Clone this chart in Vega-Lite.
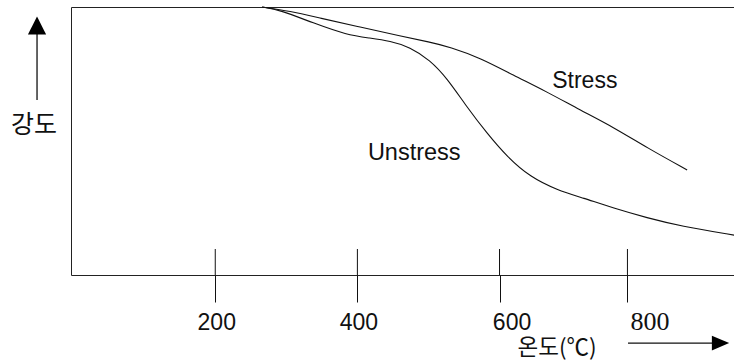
{
  "$schema": "https://vega.github.io/schema/vega-lite/v6.json",
  "width": 700,
  "height": 268,
  "autosize": "none",
  "padding": {"left": 71, "top": 7, "right": 0, "bottom": 85},
  "background": "white",
  "config": {"view": {"stroke": "#222", "strokeWidth": 1}},
  "datasets": {
    "curves": [
      {"series": "Stress", "t": 266, "s": 100},
      {"series": "Stress", "t": 305, "s": 98.5},
      {"series": "Stress", "t": 347, "s": 95.9},
      {"series": "Stress", "t": 404, "s": 92.5},
      {"series": "Stress", "t": 460, "s": 89.2},
      {"series": "Stress", "t": 502, "s": 86.9},
      {"series": "Stress", "t": 530, "s": 85.1},
      {"series": "Stress", "t": 573, "s": 81.0},
      {"series": "Stress", "t": 619, "s": 74.6},
      {"series": "Stress", "t": 667, "s": 68.3},
      {"series": "Stress", "t": 713, "s": 61.6},
      {"series": "Stress", "t": 760, "s": 55.2},
      {"series": "Stress", "t": 808, "s": 47.4},
      {"series": "Stress", "t": 864, "s": 39.2},
      {"series": "Unstress", "t": 266, "s": 100},
      {"series": "Unstress", "t": 291, "s": 98.9},
      {"series": "Unstress", "t": 338, "s": 94.0},
      {"series": "Unstress", "t": 385, "s": 89.6},
      {"series": "Unstress", "t": 418, "s": 88.4},
      {"series": "Unstress", "t": 446, "s": 87.3},
      {"series": "Unstress", "t": 474, "s": 85.1},
      {"series": "Unstress", "t": 502, "s": 80.2},
      {"series": "Unstress", "t": 526, "s": 73.5},
      {"series": "Unstress", "t": 554, "s": 62.7},
      {"series": "Unstress", "t": 582, "s": 53.0},
      {"series": "Unstress", "t": 611, "s": 44.0},
      {"series": "Unstress", "t": 643, "s": 36.6},
      {"series": "Unstress", "t": 681, "s": 31.7},
      {"series": "Unstress", "t": 718, "s": 28.7},
      {"series": "Unstress", "t": 760, "s": 25.0},
      {"series": "Unstress", "t": 808, "s": 21.3},
      {"series": "Unstress", "t": 854, "s": 18.3},
      {"series": "Unstress", "t": 932, "s": 14.8}
    ],
    "ticks": [{"v": 200}, {"v": 400}, {"v": 600}, {"v": 780}]
  },
  "layer": [
    {
      "data": {"name": "curves"},
      "mark": {"type": "line", "interpolate": "basis", "color": "#111", "strokeWidth": 1.1},
      "encoding": {
        "x": {
          "field": "t", "type": "quantitative",
          "scale": {"domain": [-3, 982], "nice": false, "zero": false},
          "axis": {
            "values": [200, 400, 600, 780],
            "labelExpr": "datum.value > 700 ? '800' : datum.label",
            "title": null,
            "domain": false,
            "grid": false,
            "ticks": true,
            "tickSize": 27,
            "tickColor": "#111",
            "tickWidth": 1,
            "labelFontSize": {"condition": {"test": "datum.value > 700", "value": 26}, "value": 23},
            "labelFont": {"condition": {"test": "datum.value > 700", "value": "Liberation Serif"}, "value": "Liberation Sans"},
            "labelOffset": {"condition": [{"test": "datum.value > 700", "value": 22}, {"test": "datum.value > 500", "value": 12}], "value": 1},
            "labelPadding": 27,
            "labelBaseline": "alphabetic",
            "labelColor": "#111",
            "labelFlush": false,
            "labelOverlap": false
          }
        },
        "y": {"field": "s", "type": "quantitative", "scale": {"domain": [0, 100], "nice": false, "zero": false}, "axis": null},
        "detail": {"field": "series"}
      }
    },
    {
      "data": {"name": "ticks"},
      "mark": {"type": "rule", "color": "#111", "strokeWidth": 1},
      "encoding": {
        "x": {"field": "v", "type": "quantitative", "scale": {"domain": [-3, 982], "nice": false, "zero": false}},
        "y": {"datum": 0, "type": "quantitative", "scale": {"domain": [0, 100], "nice": false, "zero": false}},
        "y2": {"datum": 9.7}
      }
    },
    {
      "data": {"values": [{}]},
      "mark": {"type": "text", "text": "Stress", "font": "Liberation Sans", "fontSize": 23, "color": "#111", "align": "center", "baseline": "middle"},
      "encoding": {
        "x": {"datum": 720, "type": "quantitative"},
        "y": {"datum": 72.4, "type": "quantitative"}
      }
    },
    {
      "data": {"values": [{}]},
      "mark": {"type": "text", "text": "Unstress", "font": "Liberation Sans", "fontSize": 23.5, "color": "#111", "align": "center", "baseline": "middle"},
      "encoding": {
        "x": {"datum": 480, "type": "quantitative"},
        "y": {"datum": 45.7, "type": "quantitative"}
      }
    },
    {
      "data": {"values": [{}]},
      "mark": {"type": "text", "text": "강도", "font": "Noto Sans CJK KR", "fontSize": 25, "color": "#111", "align": "center", "baseline": "middle"},
      "encoding": {
        "x": {"datum": -55, "type": "quantitative"},
        "y": {"datum": 56, "type": "quantitative"}
      }
    },
    {
      "data": {"values": [{}]},
      "mark": {"type": "text", "text": "온도(℃)", "font": "Noto Sans CJK KR", "fontSize": 22.5, "color": "#111", "align": "center", "baseline": "middle"},
      "encoding": {
        "x": {"datum": 681, "type": "quantitative"},
        "y": {"datum": -27.4, "type": "quantitative"}
      }
    },
    {
      "data": {"values": [{}]},
      "mark": {"type": "rule", "color": "#111", "strokeWidth": 1.3},
      "encoding": {
        "x": {"datum": -50.8, "type": "quantitative"},
        "y": {"datum": 65.3, "type": "quantitative"},
        "y2": {"datum": 90.3}
      }
    },
    {
      "data": {"values": [{}]},
      "mark": {"type": "point", "shape": "M-1,1L0,-1L1,1Z", "size": 330, "filled": true, "color": "#000", "opacity": 1, "strokeWidth": 0},
      "encoding": {
        "x": {"datum": -50.8, "type": "quantitative"},
        "y": {"datum": 93.1, "type": "quantitative"}
      }
    },
    {
      "data": {"values": [{}]},
      "mark": {"type": "rule", "color": "#111", "strokeWidth": 1.3},
      "encoding": {
        "x": {"datum": 780.8, "type": "quantitative"},
        "x2": {"datum": 901},
        "y": {"datum": -25.4, "type": "quantitative"}
      }
    },
    {
      "data": {"values": [{}]},
      "mark": {"type": "point", "shape": "M-1,-0.85L1,0L-1,0.85Z", "size": 300, "filled": true, "color": "#000", "opacity": 1, "strokeWidth": 0},
      "encoding": {
        "x": {"datum": 911, "type": "quantitative"},
        "y": {"datum": -25.4, "type": "quantitative"}
      }
    }
  ]
}
